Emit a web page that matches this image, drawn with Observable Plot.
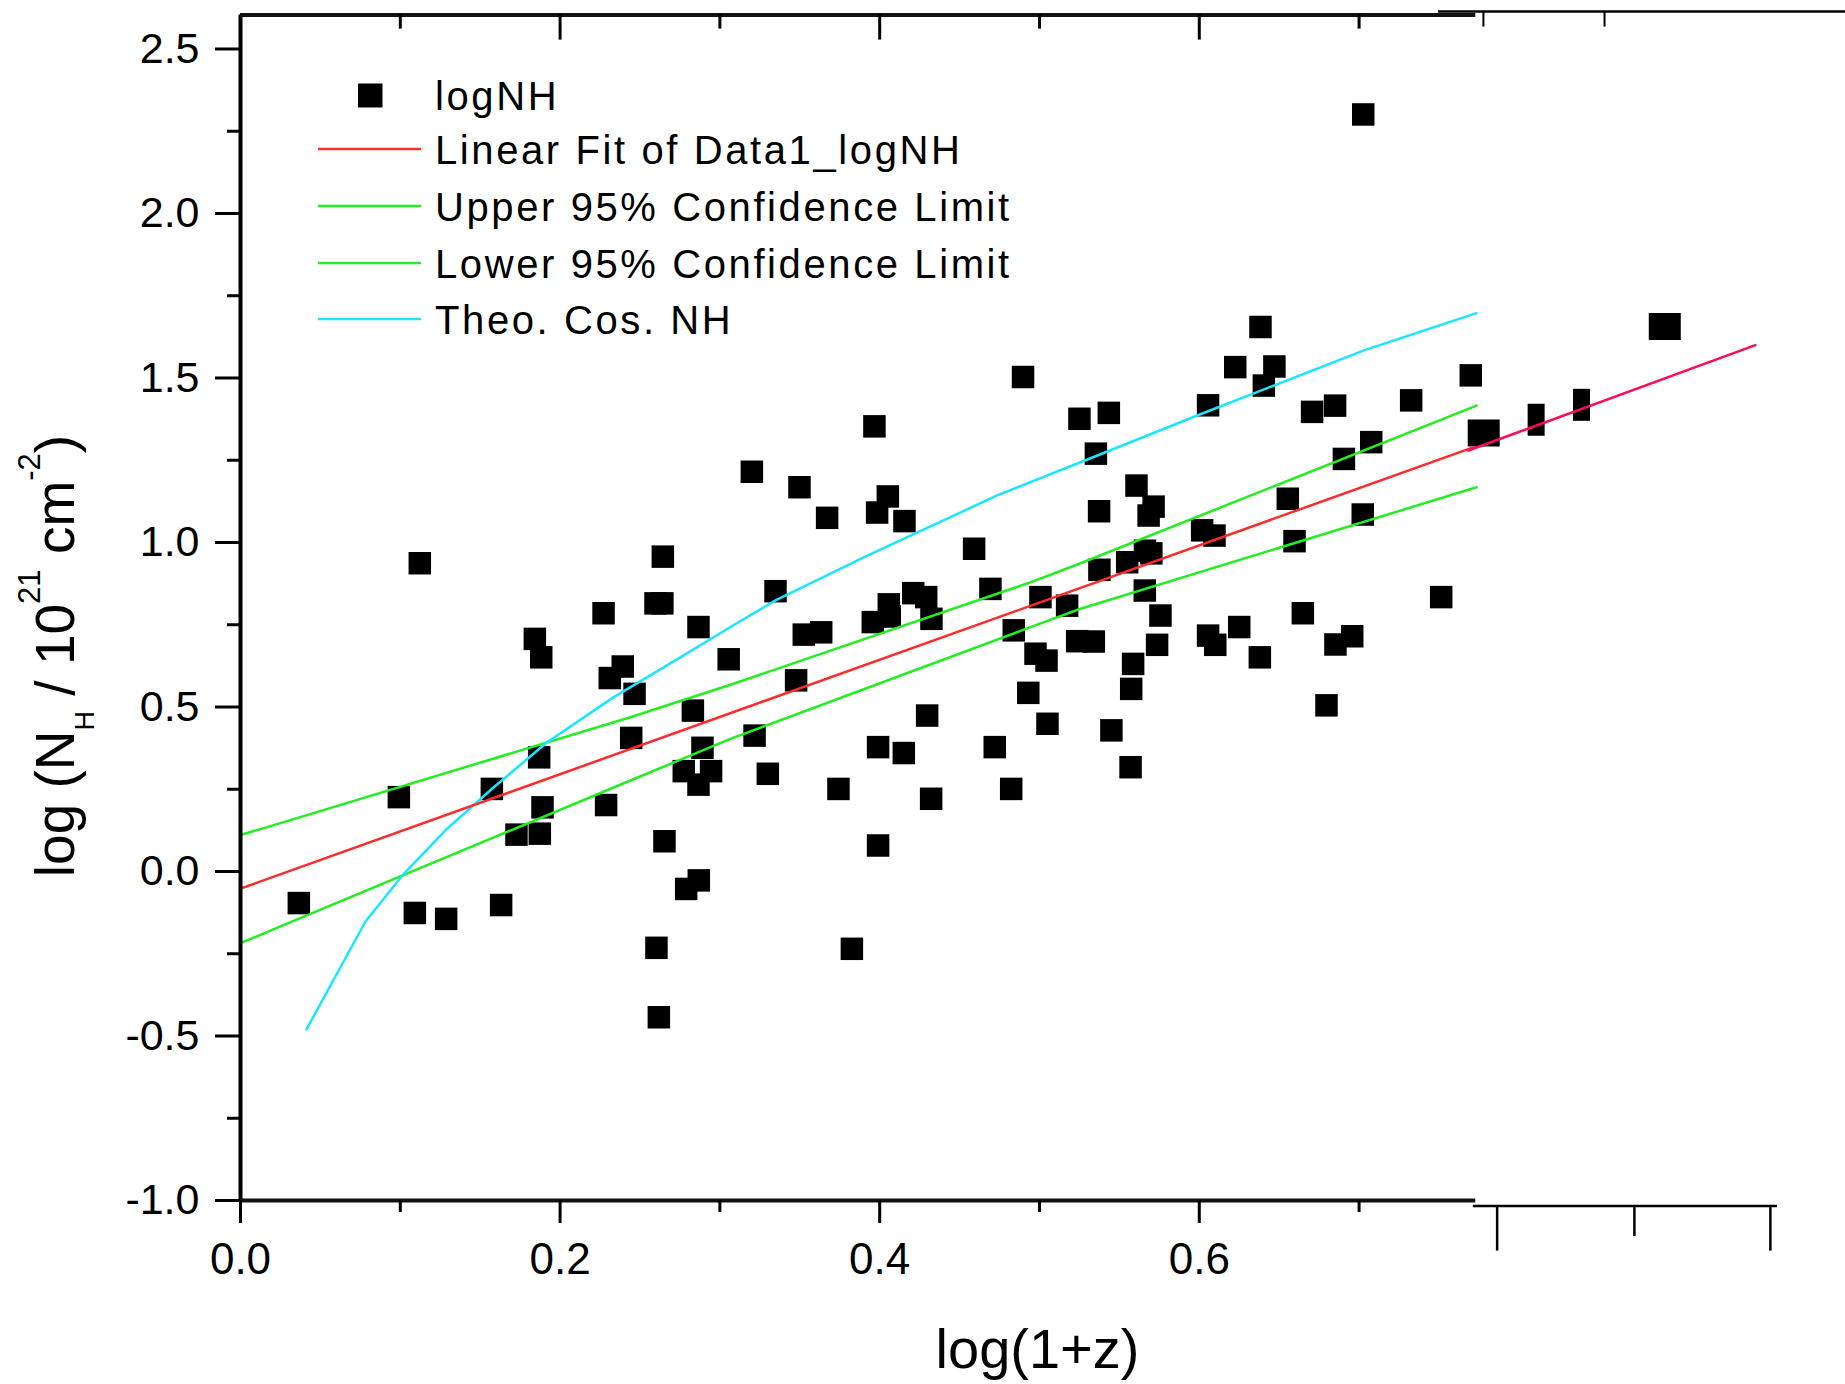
<!DOCTYPE html>
<html><head><meta charset="utf-8">
<script src="https://cdn.jsdelivr.net/npm/d3@7"></script>
<script src="https://cdn.jsdelivr.net/npm/@observablehq/plot@0.6"></script>
<style>
html,body{margin:0;padding:0;background:#fff;}
#chart{position:relative;width:1845px;height:1384px;overflow:hidden;}
</style></head><body><div id="chart"></div>
<script>
// ---- data ----
const logz = [0.0365,0.0991,0.1091,0.1122,0.1287,0.1573,0.1631,0.1727,0.1842,0.1882,0.1869,0.189,0.1873,0.2272,0.2311,0.2392,0.2288,0.2466,0.2445,0.2597,0.264,0.2643,0.2603,0.2618,0.2653,0.2789,0.2868,0.2774,0.2866,0.2945,0.2891,0.2831,0.2866,0.3055,0.32,0.3217,0.33,0.3348,0.3477,0.3498,0.3525,0.3634,0.3671,0.3742,0.3826,0.3967,0.3957,0.3984,0.399,0.399,0.4051,0.4057,0.4063,0.4155,0.4151,0.421,0.4291,0.4324,0.4297,0.4322,0.4591,0.4693,0.472,0.4823,0.4839,0.4897,0.493,0.4975,0.5006,0.5044,0.505,0.5173,0.5236,0.525,0.534,0.5353,0.5373,0.5375,0.5434,0.545,0.5549,0.557,0.5574,0.5586,0.5607,0.5659,0.566,0.57,0.5683,0.5714,0.5736,0.5757,0.6018,0.6055,0.6055,0.6095,0.61,0.6225,0.625,0.6383,0.6404,0.6379,0.647,0.6554,0.6596,0.6648,0.6706,0.6796,0.685,0.6852,0.6905,0.6957,0.7026,0.7023,0.7076,0.7326,0.7514,0.7699];
const logNH = [-0.096,0.226,-0.126,0.937,-0.144,0.251,-0.102,0.112,0.707,0.651,0.347,0.195,0.115,0.785,0.588,0.623,0.202,0.54,0.406,0.815,0.815,0.957,-0.232,-0.443,0.092,-0.053,-0.027,0.305,0.264,0.305,0.376,0.489,0.743,0.645,1.215,0.413,0.297,0.852,0.581,1.168,0.72,0.727,1.075,0.251,-0.235,1.353,0.758,1.091,0.378,0.079,1.14,0.812,0.775,1.065,0.36,0.846,0.834,0.768,0.474,0.221,0.981,0.859,0.378,0.251,0.733,1.503,0.543,0.662,0.834,0.641,0.449,0.808,0.7,1.376,0.699,1.27,1.095,0.917,1.394,0.429,0.94,0.317,0.555,0.631,1.173,0.854,0.975,0.967,1.082,1.109,0.689,0.778,1.037,1.417,0.717,1.021,0.689,1.533,0.743,1.655,1.477,0.651,1.535,1.133,1.004,0.785,1.397,0.505,1.416,0.69,1.254,0.715,2.301,1.085,1.305,1.432,0.834,1.508];

// pasted-on right-hand panel
const extWideLogz = [0.778, 0.8913];
const extWideLogNH = [1.333, 1.6565];
const extTallLogz = [0.8108, 0.8392];
const extTallLogNH = [1.373, 1.4185];

const fitLogz = [0, 0.7718];
const fitVal = [-0.052, 1.290];
const fitExtLogz = [0.7684, 0.948];
const fitExtVal = [1.2796, 1.600];

const upperLogz = [0, 0.025, 0.244, 0.3066, 0.4944, 0.5257, 0.7735];
const upperVal = [0.111, 0.147, 0.469, 0.5675, 0.879, 0.937, 1.416];
const lowerLogz = [0, 0.025, 0.244, 0.3066, 0.4944, 0.5257, 0.7735];
const lowerVal = [-0.218, -0.167, 0.2766, 0.403, 0.7426, 0.7985, 1.168];

const theoLogz = [0.0413,0.0782,0.1022,0.1293,0.1585,0.1919,0.2336,0.2753,0.3066,0.3348,0.39,0.4735,0.5257,0.5987,0.703,0.7735];
const theoVal = [-0.48,-0.152,-0.007,0.13,0.256,0.393,0.53,0.651,0.743,0.824,0.955,1.143,1.244,1.386,1.584,1.697];

const yMajor = [-1.0,-0.5,0.0,0.5,1.0,1.5,2.0,2.5];
const yMinor = [-0.75,-0.25,0.25,0.75,1.25,1.75,2.25];
const xMajor = [0.0,0.2,0.4,0.6];
const xMinor = [0.1,0.3,0.5,0.7];
const extTopTicks = [0.7778, 0.8536];
const extBottomLong = [0.7864, 0.9574];
const extBottomShort = [0.8723];

const legendLabels = ["logNH","Linear Fit of Data1_logNH","Upper 95% Confidence Limit","Lower 95% Confidence Limit","Theo. Cos. NH"];

// ---- build tables ----
const pts = logz.map((x,i)=>({x, y: logNH[i]}));
const extWide = extWideLogz.map((x,i)=>({x, y: extWideLogNH[i]}));
const extTall = extTallLogz.map((x,i)=>({x, y: extTallLogNH[i]}));
const toRows = (xs, ys) => xs.map((x,i)=>({x, y: ys[i]}));
const fit = toRows(fitLogz, fitVal);
const fitExt = toRows(fitExtLogz, fitExtVal);
const upper = toRows(upperLogz, upperVal);
const lower = toRows(lowerLogz, lowerVal);
const theo = toRows(theoLogz, theoVal);

const W = 1845, H = 1384, mL = 240, mT = 14.6, mB = 184;
const frameH = H - mT - mB, frameW = W - mL;
const xEnd = 0.773, yTop = 2.603;

const RED = "#ff2a2a", GREEN = "#22ee22", CYAN = "#1ae6ff", PINK = "#ff0a5c";
const sq = {draw(c){ c.rect(-11.25,-11.25,22.5,22.5); }};
const wide = {draw(c){ c.rect(-16,-13.5,32,27); }};
const tall = {draw(c){ c.rect(-8.5,-16,17,32); }};

const chart = Plot.plot({
  width: W, height: H,
  marginLeft: mL, marginRight: 0, marginTop: mT, marginBottom: mB,
  x: {domain: [0, 1.0044]},
  y: {domain: [-1, yTop]},
  style: {fontFamily: "'Liberation Sans', Arial, sans-serif", background: "#fff", color: "#000", overflow: "visible"},
  marks: [
    Plot.dot(pts, {x: "x", y: "y", symbol: sq, fill: "#000", stroke: "none"}),
    Plot.dot(extWide, {x: "x", y: "y", symbol: wide, fill: "#000", stroke: "none"}),
    Plot.dot(extTall, {x: "x", y: "y", symbol: tall, fill: "#000", stroke: "none"}),
    Plot.line(upper, {x: "x", y: "y", stroke: GREEN, strokeWidth: 2.5}),
    Plot.line(lower, {x: "x", y: "y", stroke: GREEN, strokeWidth: 2.5}),
    Plot.line(theo, {x: "x", y: "y", stroke: CYAN, strokeWidth: 2.5}),
    Plot.line(fit, {x: "x", y: "y", stroke: RED, strokeWidth: 2.5}),
    Plot.line(fitExt, {x: "x", y: "y", stroke: PINK, strokeWidth: 2.5}),
    // frame of the main panel
    Plot.ruleX([0], {y1: -1, y2: yTop, stroke: "#000", strokeWidth: 4}),
    Plot.ruleY([-1], {x1: 0, x2: xEnd, stroke: "#111", strokeWidth: 4}),
    Plot.ruleY([yTop], {x1: 0, x2: xEnd, stroke: "#111", strokeWidth: 4}),
    // y axis
    Plot.axisY({ticks: yMajor, tickSize: 25, tickPadding: 16, tickFormat: d => d.toFixed(1), label: null, strokeWidth: 3, fontSize: 43}),
    Plot.tickY(yMinor, {y: d => d, insetLeft: -13, insetRight: frameW, stroke: "#000", strokeWidth: 3}),
    // x axis
    Plot.axisX({ticks: xMajor, tickSize: 23, tickPadding: 19, tickFormat: d => d.toFixed(1), label: null, strokeWidth: 3, fontSize: 44}),
    Plot.tickX(xMinor, {x: d => d, insetTop: frameH, insetBottom: -12, stroke: "#000", strokeWidth: 3}),
    // top inward ticks
    Plot.tickX(xMajor.slice(1), {x: d => d, insetBottom: frameH - 25, stroke: "#000", strokeWidth: 3}),
    Plot.tickX(xMinor, {x: d => d, insetBottom: frameH - 14, stroke: "#000", strokeWidth: 3}),
    // pasted-on panel borders
    Plot.ruleY([yTop], {x1: 0.7497, x2: 1.0044, dy: -3.6, stroke: "#000", strokeWidth: 2.5}),
    Plot.tickX(extTopTicks, {x: d => d, insetTop: -3.6, insetBottom: frameH - 12, stroke: "#000", strokeWidth: 2}),
    Plot.ruleY([-1], {x1: 0.7715, x2: 0.9618, dy: 5.6, stroke: "#000", strokeWidth: 2.5}),
    Plot.tickX(extBottomLong, {x: d => d, insetTop: frameH + 5.6, insetBottom: -50.6, stroke: "#000", strokeWidth: 2.5}),
    Plot.tickX(extBottomShort, {x: d => d, insetTop: frameH + 5.6, insetBottom: -36, stroke: "#000", strokeWidth: 2.5})
  ]
});

document.getElementById("chart").appendChild(chart);

// ---- legend, axis titles ----
const svg = d3.select(chart);
const leg = svg.append("g")
  .attr("font-family", "'Liberation Sans', Arial, sans-serif")
  .attr("font-size", 40).attr("letter-spacing", "2.6px")
  .attr("text-anchor", "start").attr("fill", "#000");
const legColors = [null, RED, GREEN, GREEN, CYAN];
const legY = [95.5, 149, 206, 263, 319];
legendLabels.forEach((lab, i) => {
  if (i === 0) {
    leg.append("rect").attr("x", 358).attr("y", legY[i] - 12).attr("width", 24.5).attr("height", 24).attr("fill", "#000");
  } else {
    leg.append("line").attr("x1", 318).attr("x2", 421).attr("y1", legY[i]).attr("y2", legY[i]).attr("stroke", legColors[i]).attr("stroke-width", 2.5);
  }
  leg.append("text").attr("x", 435).attr("y", legY[i] + 14.5).attr("text-anchor", "start").text(lab);
});

svg.append("text")
  .attr("x", 1037.5).attr("y", 1368)
  .attr("text-anchor", "middle")
  .attr("font-family", "'Liberation Sans', Arial, sans-serif")
  .attr("font-size", 56).attr("fill", "#000")
  .text("log(1+z)");

const yl = svg.append("text")
  .attr("transform", "translate(74,656) rotate(-90)")
  .attr("text-anchor", "middle")
  .attr("font-family", "'Liberation Sans', Arial, sans-serif")
  .attr("font-size", 55).attr("fill", "#000");
yl.append("tspan").text("log (N");
yl.append("tspan").attr("font-size", 27).attr("dy", 20).text("H");
yl.append("tspan").attr("dy", -20).text(" / 10");
yl.append("tspan").attr("font-size", 31).attr("dy", -34).text("21");
yl.append("tspan").attr("dy", 34).text(" cm");
yl.append("tspan").attr("font-size", 31).attr("dy", -34).text("-2");
yl.append("tspan").attr("dy", 34).text(")");
</script>
</body></html>
